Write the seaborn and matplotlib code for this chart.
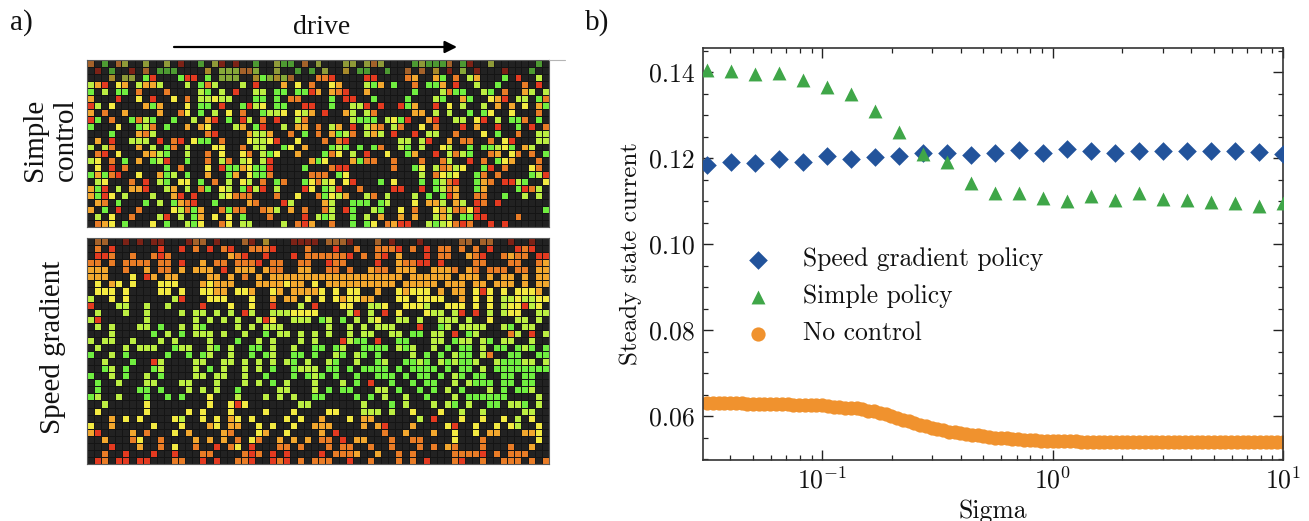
import numpy as np
import matplotlib
matplotlib.use("Agg")
import matplotlib.pyplot as plt
from matplotlib.colors import ListedColormap
from matplotlib.lines import Line2D
from matplotlib.patches import FancyArrowPatch
from matplotlib.ticker import FixedLocator, NullFormatter, LogLocator
import seaborn as sns

# cell states: . empty, r red, o orange, a amber, y yellow, l lime, g green; capitals = faded
simple_rows = [
"O.G.OY..Y. .Y.R..G.YR .R..G..YGG .O.Y...YY. YOY....GYG GGO.GR..Y. .....G.",
".R.G..R.O. GGG....A.L LLOOL..Y.. G.G.Y..A.G G..G..O.O. A.R.L.R... R...G..",
"...A.YY.gr ...grr.g.L LL..AgLALO ...oor.... rr....oa.. ag.o.la... g.r..l.",
"lar.ya.laa l...l.gol. ..l.r...a. y.o..ya... lga.g..o.g ga.r..l..g ...o.r.",
"g.l.gg.o.. .o....lg.l .r..ll.gg. ggra.aor.. a......g.. .logg..lg. o..al.l",
"a...r..y.r ..y.o.llyl l...gg.g.o o....g.rr. .g....g... lg..ag..ya r.ll.go",
"rl.y....ag a...y.gg.r ..grly.gg. .rr..g..ll r.r..rga.. r.y.l..l.a .a.y.ag",
"a.o..a.... a..oy.g.l. y.o..glly. yla.r..al. lo.....aa. l.l..g.gy. .y...o.",
"rg.o..golg ..g..l.ar. g.rl.o.r.. lo......lg gg.lygr..a r..ll.yr.l .ggo.g.",
"g...y..glo .g..a.ay.. .la.gr..l. aa.o.la.r. lao.lo..y. o...r.a..r ..g.r.o",
"...g...aol .......or. ...alla..o .g.o.aglo. lal.r..r.l l..o...y.g ..o..ll",
".a.r..lll. r.or.ygg.o ...yllyr.. y...o.or.. .....ll.lr ..a.oo..o. yr...ll",
"l.lo...a.l .go.l...yy ..o.ll..gy .a...glg.g .go..lg.l. .yl..g.ggl yg.al..",
".or.y...aa lg..l..o.y ..yo.lgy.. a...goy.l. r..y..ga.. r.lolg..oa .yo.o.g",
"ly.o.g.a.g lr..g..o.l o.ly.lr... ..agy...ag oo..o...o. .ol..r.o.g ya...o.",
".y.r.o.... .g.o...y.r ggayggr... .g...orr.. ....o..gy. loaly..gr. o...yo.",
"gagor..y.. agl.g..a.. ga.yggo... ..ooo.gy.. ........l. oyly..go.o ....glr",
".ly...o.r. lg.yy.g.o. l.yl.o.go. .gyoly.yr. ..g.y...g. glor..gao. rrlg..y",
"agr.l.aar. .la.l.og.y l.grlr.l.. .ry.glr..o ....rr..r. gloa..ga.. ..grol.",
"agry.l...l ..ar.r...l yooo...o.. y..ogyla.. lo.l...l.g .gra..oo.. g..l.l.",
".ao.g...g. l.gaor..g. ...ao...rl ....al..gg g.gl...y.a al.al.ro.r .......",
"a.g.r..o.. ..yloga..o goo..oal.a .o..ol.rg. .lg..y.o.. yalooyr... ......g",
".l.y..o... lr.l.ga.y. y.g...o... .r.lgl..g. l.a..a.a.. lal.ggrr.. ..o....",
".oay.g...y .g..lgy..o y.ll....l. ora..o..g. gy.oarr..l glyoro..r. r......",
]
speed_rows = [
".OO..R.R.R R...ROO.R. ..OR.A...R RRR.OOOR.. .O.R...R.. ...OO.OO.. R..R..",
".o.r...... r..r.o.r.o r..ooor... .o...r..o. .ooor.o.r. oo.o.o.r.. .ror..",
".rro..o..o ro........ aor..r...r .oooooor.o .or.a...r. oo..aor..o aoo.rr",
"oo.o.oooo. oo.r..a.oo .ooor.oo.. oo..roo... .r..aoorr. r....oo... oo..oa",
"aaa..o..a. oo.a.aaa.r .aaa.aoo.. aa..oo.o.. aoo.aaa..a aao.ao.ooo .oo.aa",
"aaa...y.ra .aa....aa. a.o.a.aaaa aaaaaaaaaa aaaaa.aaaa aa.aaa.a.a a.a.aa",
".y.ay.y... yyy...ayaa a...aaaaya a.y.aaaaaa aaaa.aaaaa .aaa.aa.aa a.a.aa",
".yyy.y.... yy.y..yyaa .yya..ya.a aaay.y.yy. .a..yayyy. a.aa.yry.y .yyya.",
"l..y.y.... ..lr...yyy ...y..a.aa .y.y.yayya a...yy.yyy y..a.y.y.l lyllyy",
"r...ll..l. .l....r... y..y..r... l.r...yy.. lly..yyyl. .yyy.y.y.l yyrly.",
".l...l..l. ...l.ll.l. l.rl..llly yyy....lr. l.r.y...yl l.lr.r.l.l yy..ll",
"lr......l. .....l.l.l .l..lry..l ll.gl.g.l. ly..ll.l.. lll.l..y.. .ll.l.",
".l.l...ll. g..l.lg... .l.l.lll.. ....l..l.l .lll...r.. gl.llll..l g.ll..",
"...l.....g .l.g.lll.l ..l..g.ll. l.l.l..l.l l..ll.gg.l l.r.gl.... ol.r.l",
"l.ll..l... l.l....l.. .g..l.l... l.l...rlgg .r..gg...l l.gll.lg.l l..l..",
".l...l.lll ..gll..lg. l..gg.l..l ..gg.gl..g ggg.lgl..l .g.gg.l.gg .glg.g",
"g..l.g.... .g..g.gl.. l..g.gl..g g.g..lg.lg .g....l.g. g.lgg.lo.. gg..gg",
"..l...g..r l....ll..l l.l.l.l.lg .l..lg..l. .gl..gglg. lglggl..lg ggll.l",
"..gl.g...g l....l.g.l ..l.l.g..g lll.gg.g.g ggg.g.gggg .g.gg.l.gg gggggg",
"g..l.g..l. g....ll.ll ..l..g...g .glg.g..g. .ggg.g.gg. g.lg.gg..g g.gg..",
".g..l...ll ...ll...l. ..l.l.g.l. ..l...l.g. r..g..g.gg ..l.lggg.g g.gg..",
".g.....gg. g...l.l.l. .g.....ll. ..l.g.gg.. .ll.g..g.g .l.g...l.g .ggl..",
"gl..l...g. .g.g...y.. .l...l.l.l ..gg....g. g.l..l..g. ..l.gggggg ....l.",
"..l.....y. .......y.. yry....... ll.......l ...g.l...l .lg.l..gg. llg.l.",
".y......y. ....y.y... y....y...y ....yy...l ll.l..y... y..l..l... ..ll..",
"...a.y.y.. ..yl..y.y. ay.y....y. y..a...y.a a......l.r ...y..y..y .l.y..",
"y..a.....y ...y...ay. aa..y.y..y ..aaa....a .ar...a... .yr..y..y. yl..y.",
"ar....a.o. ..y.a....a o...ya..y. ...a.r.... ..o..a...a ..y..y.aa. ..aay.",
"..a...oy.. o....a.a.a .o.yo..a.a .a.oo.r.aa ...o..oo.. ..y...o... ....y.",
"...r...a.. o.y..o..r. oy.r...oo. o...o.oo.. o..o...o.o .ao...o... o..a..",
"..o..r...r ..r...oo.. ..oro.r.r. ...r.oooa. .a..o.o... ..oooor.o. ooo...",
".ro.rr.rr. ..oo..r.r. .oor..ror. o.ooo..r.. o...o.o.r. ..or..o..o oo.o.o",
]
state_codes = ".roaylgROAYLG"
state_colors = ["#222222", "#e43a20", "#e97c26", "#f2a72e", "#f3ea42", "#bcee42", "#70ee40",
                "#7c2216", "#a4622a", "#a88a2a", "#8f9a38", "#86a838", "#4d9a32"]

# right panel
sigma = [0.0316, 0.0402, 0.0511, 0.0649, 0.0825, 0.1049, 0.1334, 0.1696, 0.2154, 0.2738, 0.3481, 0.4424, 0.5623,
         0.7149, 0.9085, 1.155, 1.468, 1.866, 2.371, 3.014, 3.831, 4.870, 6.190, 7.868, 10.0]
speed_gradient = [.1185, .1190, .1188, .1197, .1192, .1204, .1199, .1203, .1204, .1212, .1213, .1208, .1212,
                  .1218, .1211, .1222, .1217, .1212, .1216, .1217, .1216, .1216, .1216, .1215, .1210]
simple_policy = [.1405, .1402, .1395, .1398, .1382, .1366, .1349, .1310, .1260, .1210, .1190, .1143, .1118,
                 .1118, .1108, .1100, .1112, .1102, .1120, .1106, .1103, .1097, .1095, .1088, .1095]
sigma_dense = [.0316, .0335, .0355, .0376, .0398, .0422, .0447, .0473, .0501, .0531, .0562, .0596, .0631, .0668, .0708,
               .0750, .0794, .0841, .0891, .0944, .1, .1059, .1122, .1189, .1259, .1334, .1413, .1496, .1585, .1679,
               .1778, .1884, .1995, .2113, .2239, .2371, .2512, .2661, .2818, .2985, .3162, .3350, .3548, .3758, .3981,
               .4217, .4467, .4732, .5012, .5309, .5623, .5957, .631, .6683, .7079, .7499, .7943, .8414, .8913, .9441,
               1.0, 1.059, 1.122, 1.189, 1.259, 1.334, 1.413, 1.496, 1.585, 1.679, 1.778, 1.884, 1.995, 2.113, 2.239,
               2.371, 2.512, 2.661, 2.818, 2.985, 3.162, 3.350, 3.548, 3.758, 3.981, 4.217, 4.467, 4.732, 5.012, 5.309,
               5.623, 5.957, 6.31, 6.683, 7.079, 7.499, 7.943, 8.414, 8.913, 9.441, 10.0]
no_control = [.0630, .0631, .0630, .0630, .0630, .0630, .0630, .0629, .0629, .0629, .0629, .0628, .0628, .0628, .0628,
              .0627, .0627, .0627, .0626, .0626, .0625, .0624, .0622, .0621, .0620, .0619, .0618, .0616, .0613, .0611,
              .0608, .0604, .0600, .0596, .0592, .0588, .0584, .0580, .0576, .0573, .0570, .0567, .0564, .0562, .0560,
              .0558, .0556, .0555, .0553, .0552, .0550, .0549, .0548, .0547, .0546, .0545, .0544, .0544, .0543, .0543,
              .0543, .0543, .0542, .0542, .0542, .0541, .0541, .0541, .0541, .0541, .0541, .0540, .0540, .0541, .0540,
              .0540, .0540, .0540, .0540, .0539, .0540, .0540, .0540, .0541, .0540, .0540, .0540, .0540, .0540, .0540,
              .0540, .0539, .0539, .0540, .0539, .0539, .0539, .0539, .0539, .0539, .0539]
series_names = ["Speed gradient policy", "Simple policy", "No control"]
series_colors = ["#22539b", "#3fa648", "#f0922e"]

W, H = 1309, 521
sns.set_theme(style="white")
plt.rcParams["font.family"] = ["Liberation Serif", "DejaVu Serif"]
plt.rcParams["mathtext.fontset"] = "cm"
plt.rcParams["axes.unicode_minus"] = False
fig = plt.figure(figsize=(W / 100, H / 100), dpi=100)


def box(x0, y0, x1, y1):
    return [x0 / W, 1 - y1 / H, (x1 - x0) / W, (y1 - y0) / H]


def to_matrix(rows):
    return np.array([[state_codes.index(ch) for ch in r.replace(" ", "")] for r in rows])


cmap = ListedColormap(state_colors)
for rows, b in [(simple_rows, box(87, 60, 549, 227)), (speed_rows, box(87, 238, 549, 464))]:
    ax = fig.add_axes(b)
    sns.heatmap(to_matrix(rows), ax=ax, cmap=cmap, vmin=-0.5, vmax=12.5, cbar=False,
                xticklabels=False, yticklabels=False, linewidths=0.6, linecolor="#151515", square=False)
    for s in ax.spines.values():
        s.set_visible(True)
        s.set_color("#5a5a5a")
        s.set_linewidth(0.8)

fig.add_artist(Line2D([549 / W, 565 / W], [1 - 60 / H] * 2, color="#b5b5b5", lw=0.8))

# right panel
ax = fig.add_axes(box(703, 48, 1283, 460))
sns.scatterplot(x=sigma_dense, y=no_control, ax=ax, color=series_colors[2], marker="o", s=105,
                linewidth=0, label=series_names[2], zorder=2)
sns.scatterplot(x=sigma, y=speed_gradient, ax=ax, color=series_colors[0], marker="D", s=90,
                linewidth=0, label=series_names[0], zorder=3)
sns.scatterplot(x=sigma, y=simple_policy, ax=ax, color=series_colors[1], marker="^", s=100,
                linewidth=0, label=series_names[1], zorder=4)
ax.set_xscale("log")
ax.set_xlim(0.0304, 10)
ax.set_ylim(0.0498, 0.1456)
ax.set_yticks([0.06, 0.08, 0.10, 0.12, 0.14])
ax.set_yticklabels(["0.06", "0.08", "0.10", "0.12", "0.14"], family="cmr10", fontsize=18.5, color="#111111")
ax.yaxis.set_minor_locator(FixedLocator([0.05 + 0.005 * i for i in range(20)]))
ax.xaxis.set_major_locator(FixedLocator([0.1, 1, 10]))
ax.set_xticklabels([r"$10^{-1}$", r"$10^{0}$", r"$10^{1}$"], fontsize=18.5, color="#111111")
ax.xaxis.set_minor_locator(LogLocator(base=10, subs=np.arange(2, 10), numticks=12))
ax.xaxis.set_minor_formatter(NullFormatter())
ax.tick_params(which="major", direction="in", length=7, width=1.0, top=True, right=True, left=True, bottom=True,
               color="#222222")
ax.tick_params(which="minor", direction="in", length=3.5, width=0.9, top=True, right=True, left=True, bottom=True,
               color="#222222")
ax.tick_params(axis="y", which="major", pad=6)
ax.tick_params(axis="x", which="major", pad=5)
for s in ax.spines.values():
    s.set_visible(True)
    s.set_color("#333333")
    s.set_linewidth(1.2)
ax.set_xlabel("Sigma", family="cmr10", fontsize=18.5, labelpad=4, color="#111111")
ax.set_ylabel("Steady state current", family="cmr10", fontsize=18, labelpad=5, color="#111111")
handles, labels = ax.get_legend_handles_labels()
order = [labels.index(n) for n in series_names]
ax.legend([handles[i] for i in order], [labels[i] for i in order], frameon=False,
          loc="center left", bbox_to_anchor=(0.034, 0.397), labelspacing=0.52, handletextpad=1.25,
          handlelength=1.0, prop={"family": "cmr10", "size": 18.4}, labelcolor="#111111")

# left panel annotations
fig.text(10 / W, 1 - 23 / H, "a)", fontsize=21, ha="left", va="center", color="#111111")
fig.text(585 / W, 1 - 23 / H, "b)", fontsize=21, ha="left", va="center", color="#111111")
fig.text(322 / W, 1 - 27 / H, "drive", fontsize=20, ha="center", va="center", color="#111111")
fig.text(50 / W, 1 - 140 / H, "Simple\ncontrol", fontsize=21, rotation=90, ha="center", va="center",
         linespacing=1.25, color="#111111")
fig.text(53 / W, 1 - 347 / H, "Speed gradient", fontsize=21, rotation=90, ha="center", va="center", color="#111111")
fig.add_artist(FancyArrowPatch((174 / W, 1 - 47 / H), (457 / W, 1 - 47 / H), transform=fig.transFigure,
                               arrowstyle="-|>", mutation_scale=18, color="black", lw=1.6, shrinkA=0, shrinkB=0))
fig.savefig("out.png", dpi=100)
